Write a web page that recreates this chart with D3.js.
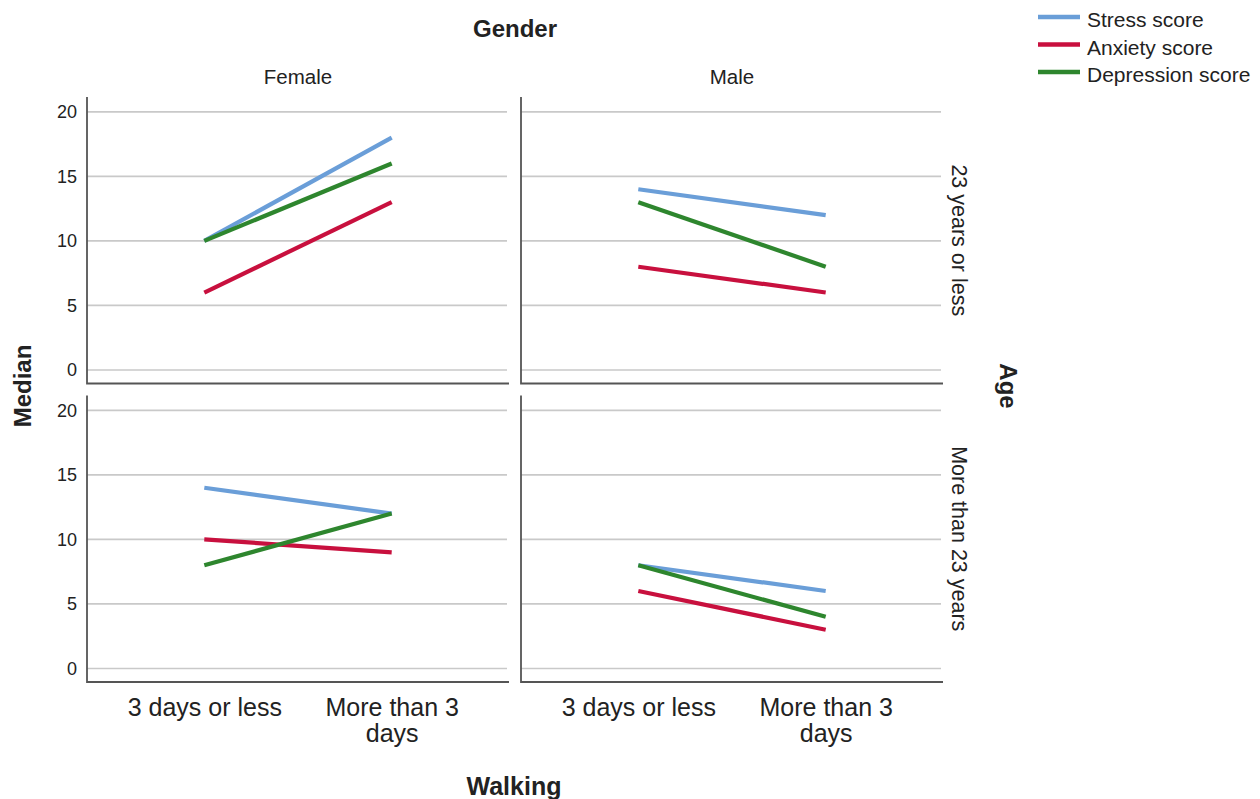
<!DOCTYPE html>
<html lang="en">
<head>
    <meta charset="UTF-8">
    <title>Median scores by walking, gender and age</title>
    <style>
        html, body {
            margin: 0;
            padding: 0;
            background: #fff;
            overflow: hidden;
        }
        svg text {
            font-family: "Liberation Sans", Arial, sans-serif;
            fill: #222;
        }
    </style>
</head>
<body>
    <svg id="chart" width="1260" height="799"></svg>

    <script src="https://cdn.jsdelivr.net/npm/d3@7"></script>
    <script>
        // facets and categories
        const genders = ['Female', 'Male'];
        const ages = ['23 years or less', 'More than 23 years'];
        const walking = ['3 days or less', 'More than 3 days'];
        const seriesNames = ['Stress score', 'Anxiety score', 'Depression score'];
        const yTicks = [0, 5, 10, 15, 20];

        // medians per panel: [Female <=23, Male <=23, Female >23, Male >23]
        // each pair is [3 days or less, More than 3 days]
        const stress = [[10, 18], [14, 12], [14, 12], [8, 6]];
        const anxiety = [[6, 13], [8, 6], [10, 9], [6, 3]];
        const depression = [[10, 16], [13, 8], [8, 12], [8, 4]];

        const colors = ['#6a9ed8', '#c8103e', '#2e862e'];
        const seriesValues = [stress, anxiety, depression];

        const svg = d3.select('#chart');

        // panel grid
        const col = d3.scaleBand().domain(genders).range([87, 943]).paddingInner(12 / 434);
        const row = d3.scaleBand().domain(ages).range([97, 682]).paddingInner(12 / 298.5);
        const bw = col.bandwidth(), bh = row.bandwidth();

        const x = d3.scalePoint().domain(walking).range([0, bw]).padding(0.626);
        const y = d3.scaleLinear().domain([-1.05, 21.15]).range([bh, 0]);

        const line = d3.line()
            .x((d, i) => x(walking[i]))
            .y(d => y(d));

        ages.forEach((age, ri) => {
            genders.forEach((gender, ci) => {
                const idx = ri * 2 + ci;
                const g = svg.append('g')
                    .attr('transform', `translate(${col(gender)},${row(age)})`);

                // gridlines
                g.selectAll('line.grid')
                    .data(yTicks)
                    .join('line')
                    .attr('class', 'grid')
                    .attr('x1', 0)
                    .attr('x2', bw - 2)
                    .attr('y1', d => y(d))
                    .attr('y2', d => y(d))
                    .attr('stroke', '#c9c9c9')
                    .attr('stroke-width', 1.6);

                // tick labels only in the left column
                if (ci === 0) {
                    const ax = g.append('g')
                        .call(d3.axisLeft(y).tickValues(yTicks).tickSize(0).tickPadding(10));
                    ax.select('.domain').remove();
                    ax.selectAll('text')
                        .style('font-size', '18px')
                        .attr('fill', '#333');
                }

                // axis frame (left + bottom)
                g.append('path')
                    .attr('d', `M0,0 V${bh} H${bw}`)
                    .attr('fill', 'none')
                    .attr('stroke', '#555')
                    .attr('stroke-width', 1.8);

                // series lines
                seriesValues.forEach((vals, si) => {
                    g.append('path')
                        .datum(vals[idx])
                        .attr('d', line)
                        .attr('fill', 'none')
                        .attr('stroke', colors[si])
                        .attr('stroke-width', 4.2);
                });

                // walking labels under bottom row
                if (ri === ages.length - 1) {
                    const ax = g.append('g')
                        .attr('transform', `translate(0,${bh})`)
                        .call(d3.axisBottom(x).tickSize(0).tickPadding(16));
                    ax.select('.domain').remove();
                    ax.selectAll('text')
                        .style('font-size', '25px')
                        .attr('fill', '#222')
                        .call(wrap, 170);
                }
            });
        });

        // column headers
        svg.selectAll('text.colhead')
            .data(genders)
            .join('text')
            .attr('class', 'colhead')
            .attr('x', d => col(d) + bw / 2)
            .attr('y', 84)
            .attr('text-anchor', 'middle')
            .style('font-size', '20.5px')
            .text(d => d);

        // row headers
        svg.selectAll('text.rowhead')
            .data(ages)
            .join('text')
            .attr('class', 'rowhead')
            .attr('transform', d => `translate(959,${row(d) + bh / 2}) rotate(90)`)
            .attr('text-anchor', 'middle')
            .attr('dominant-baseline', 'central')
            .style('font-size', '21.5px')
            .text(d => d);

        // titles
        svg.append('text')
            .attr('x', 515)
            .attr('y', 37)
            .attr('text-anchor', 'middle')
            .style('font-size', '24px')
            .style('font-weight', 'bold')
            .text('Gender');

        svg.append('text')
            .attr('x', 514)
            .attr('y', 795)
            .attr('text-anchor', 'middle')
            .style('font-size', '25px')
            .style('font-weight', 'bold')
            .text('Walking');

        svg.append('text')
            .attr('transform', 'translate(22,386) rotate(-90)')
            .attr('text-anchor', 'middle')
            .attr('dominant-baseline', 'central')
            .style('font-size', '24px')
            .style('font-weight', 'bold')
            .text('Median');

        svg.append('text')
            .attr('transform', 'translate(1008,386) rotate(90)')
            .attr('text-anchor', 'middle')
            .attr('dominant-baseline', 'central')
            .style('font-size', '24px')
            .style('font-weight', 'bold')
            .text('Age');

        // legend
        const legend = svg.append('g')
            .attr('transform', 'translate(1038,17)');
        const item = legend.selectAll('g')
            .data(seriesNames)
            .join('g')
            .attr('transform', (d, i) => `translate(0,${i * 27.5})`);
        item.append('line')
            .attr('x1', 0)
            .attr('x2', 42)
            .attr('stroke', (d, i) => colors[i])
            .attr('stroke-width', 4.5);
        item.append('text')
            .attr('x', 49)
            .attr('y', 10)
            .style('font-size', '21px')
            .text(d => d);

        // split long tick labels onto two lines
        function wrap(texts, width) {
            texts.each(function () {
                const text = d3.select(this);
                const words = text.text().split(/\s+/);
                const yPos = text.attr('y');
                const dy = parseFloat(text.attr('dy')) || 0;
                let lineWords = [];
                let lineNo = 0;
                let tspan = text.text(null).append('tspan')
                    .attr('x', 0).attr('y', yPos).attr('dy', dy + 'em');
                words.forEach(w => {
                    lineWords.push(w);
                    tspan.text(lineWords.join(' '));
                    if (tspan.node().getComputedTextLength() > width && lineWords.length > 1) {
                        lineWords.pop();
                        tspan.text(lineWords.join(' '));
                        lineWords = [w];
                        lineNo++;
                        tspan = text.append('tspan')
                            .attr('x', 0).attr('y', yPos)
                            .attr('dy', (lineNo * 1.05 + dy) + 'em')
                            .text(w);
                    }
                });
            });
        }
    </script>
</body>
</html>
